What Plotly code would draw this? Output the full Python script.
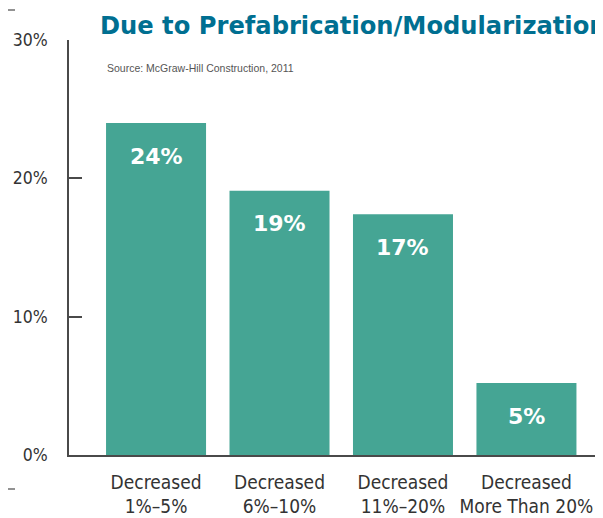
import plotly.graph_objects as go

categories = ["Decreased<br>1%–5%", "Decreased<br>6%–10%", "Decreased<br>11%–20%", "Decreased<br>More Than 20%"]
values = [24.0, 19.1, 17.4, 5.2]
bar_labels = ["24%", "19%", "17%", "5%"]
y_ticks = [0, 10, 20, 30]
y_tick_labels = ["0%", "10%", "20%", "30%"]
title_line1 = "Level of Decrease in Project Budget"
title_line2 = "Due to Prefabrication/Modularization"
source_text = "Source: McGraw-Hill Construction, 2011"

BAR = "#45a594"
AX = "#4a4a4a"
COND = "Liberation Sans Narrow, DejaVu Sans Condensed, Arial Narrow, sans-serif"

# page body has an 8px margin, so the figure is sized to fit the 603x518 window
W, H = 595, 510
L, R, T, B = 61, 0, 32, 63
PW, PH = W - L - R, H - T - B

fig = go.Figure()
fig.add_trace(go.Bar(
    x=list(range(len(categories))), y=values,
    marker=dict(color=BAR, line=dict(width=0)),
    width=0.81, hoverinfo="skip",
))

for i, (v, lab) in enumerate(zip(values, bar_labels)):
    fig.add_annotation(x=i, y=v, text=lab, showarrow=False, yanchor="middle",
                       yshift=-33, font=dict(family="DejaVu Sans", size=22, color="white", weight="bold"))

TFONT = dict(family="DejaVu Sans, sans-serif", size=24.2, color="#006f91", weight="bold")
fig.add_annotation(xref="paper", yref="paper", x=29/PW, y=1.0 - 2/PH, xanchor="left", yanchor="bottom",
                   text=title_line2, showarrow=False, align="left", font=TFONT)
# first title line sits mostly above the visible area, as in the reference
fig.add_annotation(xref="paper", yref="paper", x=29/PW, y=1.0 + 31/PH, xanchor="left", yanchor="bottom",
                   text=title_line1, showarrow=False, align="left", font=TFONT)
fig.add_annotation(xref="paper", yref="paper", x=36/PW, y=1 - 28/PH, xanchor="left", yanchor="middle",
                   text=source_text, showarrow=False,
                   font=dict(family="Liberation Sans, Arial, sans-serif", size=10.5, color="#555555"))

# crop marks
for yy in [2, 481]:
    fig.add_shape(type="line", xref="paper", yref="paper",
                  x0=-L/PW, x1=-(L-7)/PW, y0=(T + PH - yy)/PH, y1=(T + PH - yy)/PH,
                  line=dict(color=AX, width=1.2))

fig.update_layout(
    width=W, height=H,
    margin=dict(l=L, r=R, t=T, b=B),
    paper_bgcolor="white", plot_bgcolor="white",
    showlegend=False,
    bargap=0.19,
    xaxis=dict(
        range=[-0.705, 3.62], tickmode="array", tickvals=list(range(len(categories))), ticktext=categories,
        showline=True, linecolor=AX, linewidth=1.5, showgrid=False, zeroline=False, ticks="",
        tickfont=dict(family=COND, size=19, color="#333333"), fixedrange=True,
        ticklabelstandoff=9,
    ),
    yaxis=dict(
        range=[0, 30], tickmode="array", tickvals=y_ticks, ticktext=y_tick_labels,
        showline=True, linecolor=AX, linewidth=1.5, showgrid=False, zeroline=False,
        ticks="inside", ticklen=13, tickwidth=1.5, tickcolor=AX,
        tickfont=dict(family=COND, size=17.5, color="#333333"), ticklabelstandoff=16,
        fixedrange=True,
    ),
)

fig.write_html("out.html")
